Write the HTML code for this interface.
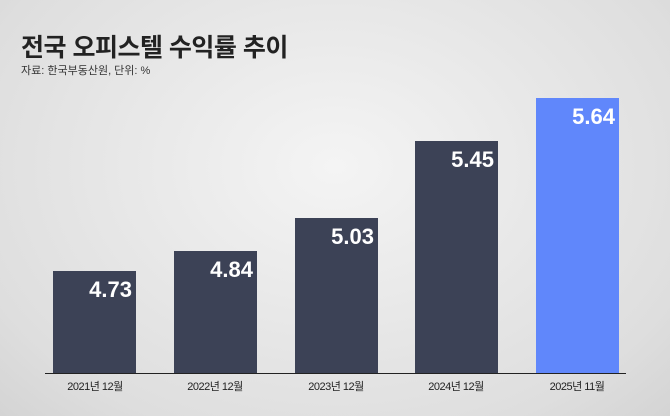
<!DOCTYPE html>
<html><head><meta charset="utf-8"><style>
body{margin:0;width:670px;height:416px;overflow:hidden;background:radial-gradient(ellipse at 50% 40%,#f4f4f4,#dedede 80%,#d4d4d4);font-family:"Liberation Sans","Noto Sans CJK KR",sans-serif;position:relative}
.t{position:absolute;left:21px;top:28px;font-size:25px;font-weight:bold;color:#222;letter-spacing:-0.5px}
.s{position:absolute;left:21px;top:62px;font-size:11px;color:#333}
.b{position:absolute;background:#3c4256;width:83px;bottom:42px}
.b span{position:absolute;right:4px;top:6px;color:#fff;font-weight:bold;font-size:22px}
.l{position:absolute;top:378px;font-size:11px;color:#222;width:100px;text-align:center;letter-spacing:-0.5px}
.ax{position:absolute;left:45px;width:581px;top:373px;height:1px;background:#222}
</style></head><body>
<div class="t">전국 오피스텔 수익률 추이</div>
<div class="s">자료: 한국부동산원, 단위: %</div>
<div class="b" style="left:53px;top:271px"><span>4.73</span></div>
<div class="b" style="left:174px;top:251px"><span>4.84</span></div>
<div class="b" style="left:295px;top:218px"><span>5.03</span></div>
<div class="b" style="left:415px;top:141px"><span>5.45</span></div>
<div class="b" style="left:536px;top:98px;background:#6087fb"><span>5.64</span></div>
<div class="ax"></div>
<div class="l" style="left:45px">2021년 12월</div>
<div class="l" style="left:165px">2022년 12월</div>
<div class="l" style="left:286px">2023년 12월</div>
<div class="l" style="left:406px">2024년 12월</div>
<div class="l" style="left:527px">2025년 11월</div>
</body></html>
